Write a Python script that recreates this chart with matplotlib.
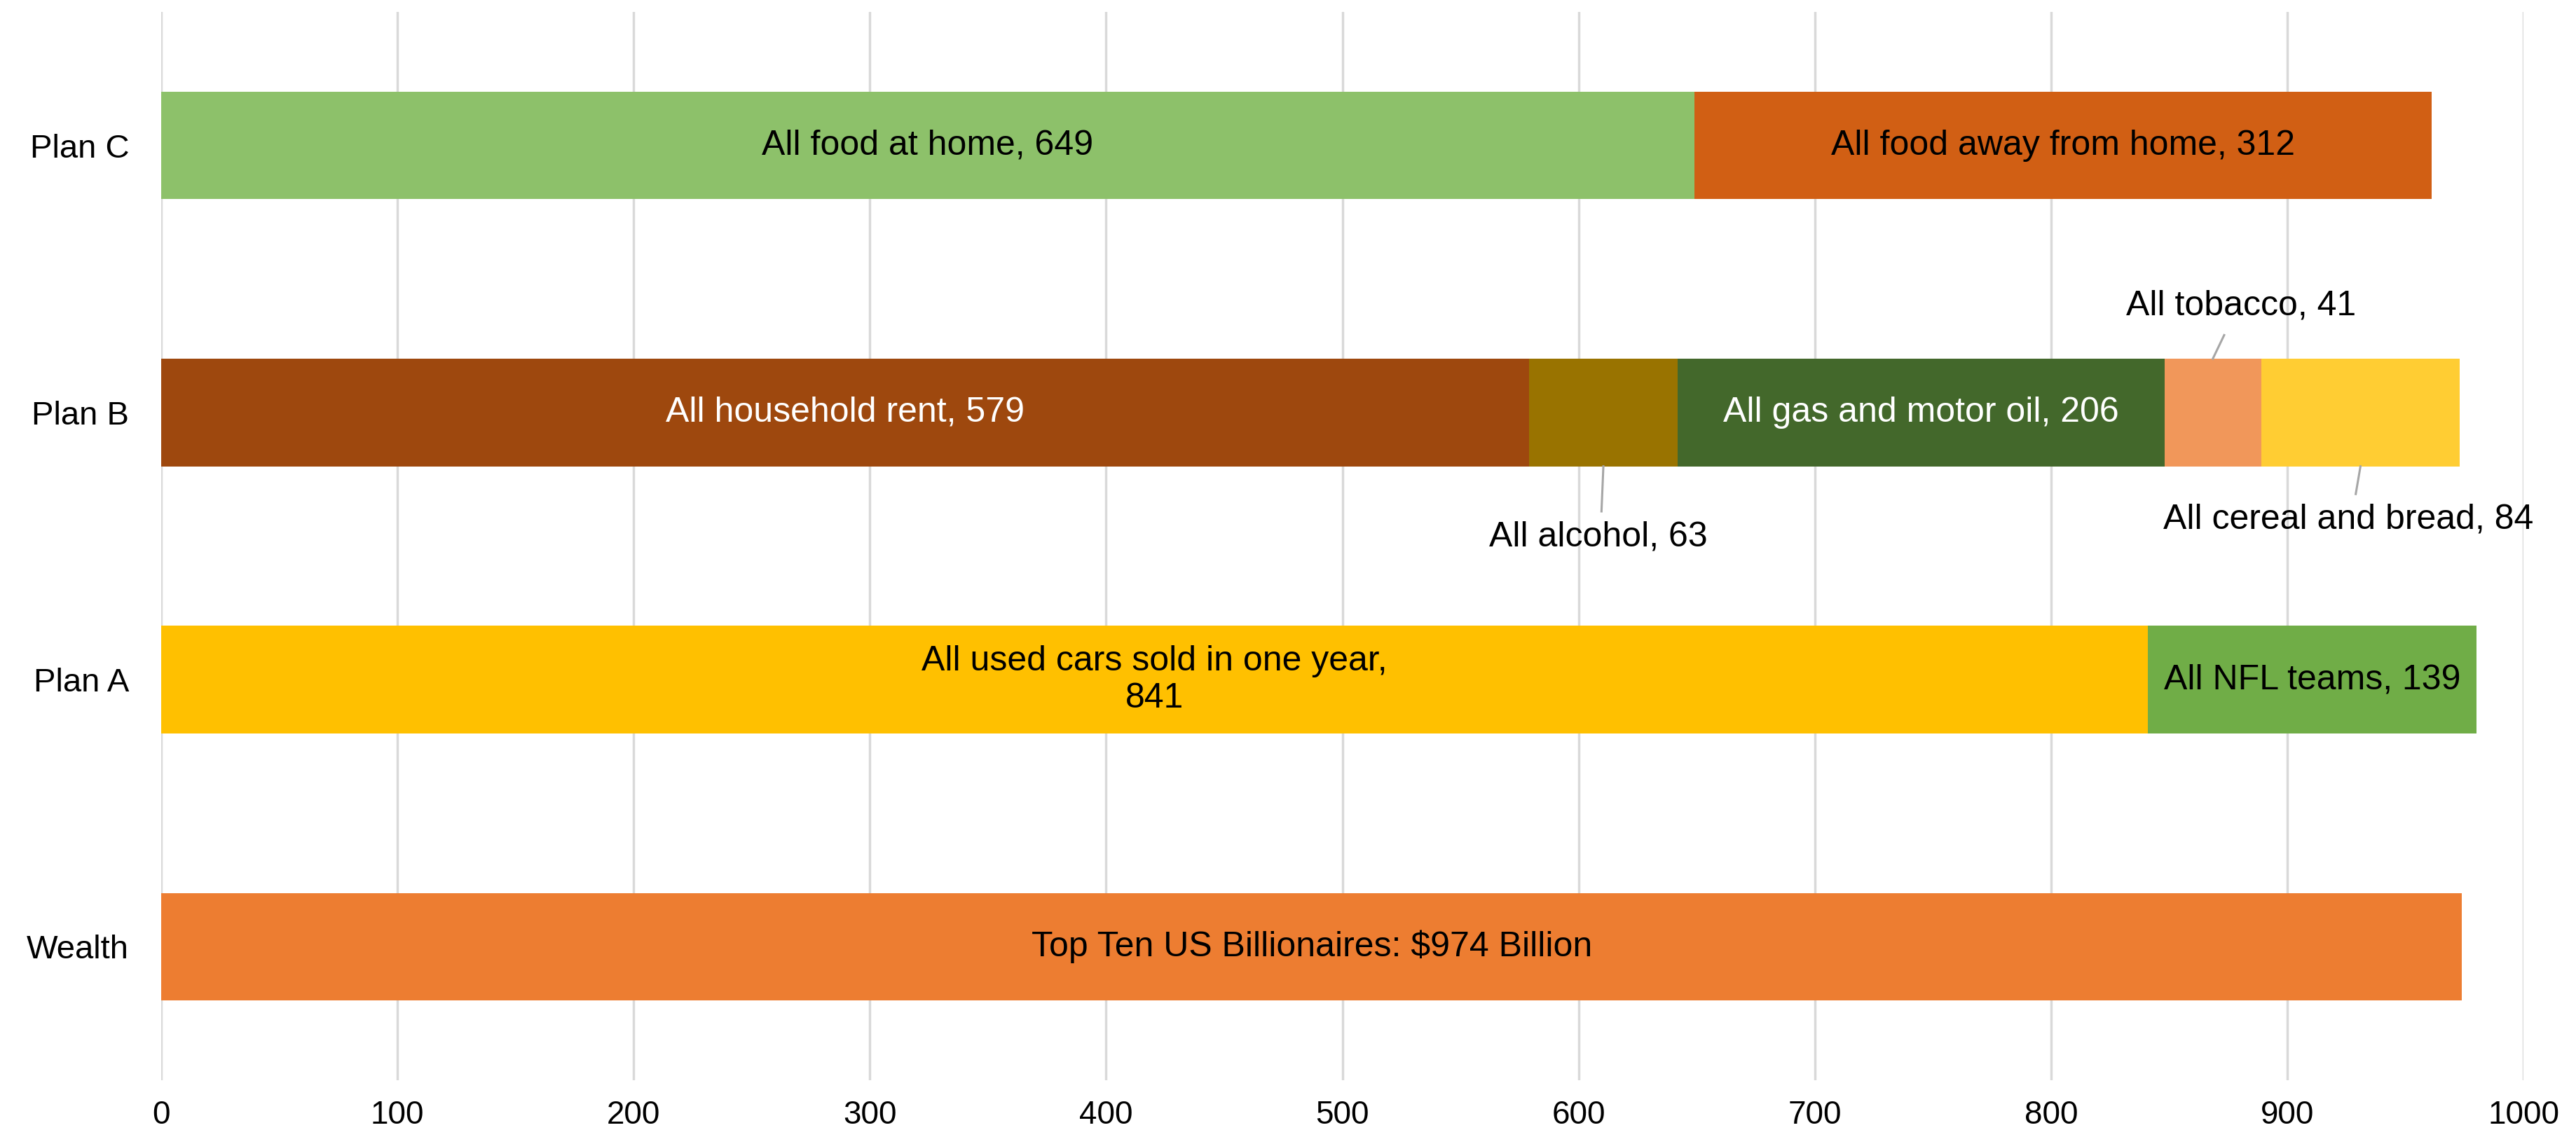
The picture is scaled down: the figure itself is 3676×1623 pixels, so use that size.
import matplotlib.pyplot as plt

plt.rcParams['font.family'] = ['Liberation Sans', 'DejaVu Sans']

# rows from bottom to top
rows = ["Wealth", "Plan A", "Plan B", "Plan C"]

wealth_vals = [974]
wealth_names = ["Top Ten US Billionaires: $974 Billion"]
wealth_colors = ["#ED7D31"]

plan_a_vals = [841, 139]
plan_a_names = ["All used cars sold in one year,\n841", "All NFL teams, 139"]
plan_a_colors = ["#FFC000", "#70AD47"]

plan_b_vals = [579, 63, 206, 41, 84]
plan_b_names = ["All household rent, 579", "All alcohol, 63", "All gas and motor oil, 206",
                "All tobacco, 41", "All cereal and bread, 84"]
plan_b_colors = ["#9E480E", "#997300", "#43682B", "#F1975A", "#FFCD33"]

plan_c_vals = [649, 312]
plan_c_names = ["All food at home, 649", "All food away from home, 312"]
plan_c_colors = ["#8DC16A", "#D15F14"]

white_text = ["All household rent, 579", "All gas and motor oil, 206"]
# small segments labelled outside the bar: (y offset of text, y offset of line end, x shift)
outside = {
    "All alcohol, 63": (-0.465, -0.37, -2),
    "All tobacco, 41": (0.40, 0.29, 12),
    "All cereal and bread, 84": (-0.40, -0.305, -5),
}

fig = plt.figure(figsize=(36.76, 16.23), dpi=100)
ax = fig.add_axes([0.0626, 0.0499, 0.9170, 0.9396])

h = 0.403
for y, (vals, names, colors) in enumerate([(wealth_vals, wealth_names, wealth_colors),
                                          (plan_a_vals, plan_a_names, plan_a_colors),
                                          (plan_b_vals, plan_b_names, plan_b_colors),
                                          (plan_c_vals, plan_c_names, plan_c_colors)]):
    left = 0
    for v, name, c in zip(vals, names, colors):
        ax.barh(y, v, left=left, height=h, color=c, zorder=2)
        mid = left + v / 2
        if name in outside:
            ty, ly, dx = outside[name]
            edge = h / 2 if ty > 0 else -h / 2
            ax.plot([mid, mid + dx * 0.4], [y + edge, y + ly], color="#A6A6A6", lw=2.2, zorder=3)
            ax.text(mid + dx, y + ty, name, ha="center", va="center", fontsize=36, color="#000000",
                    clip_on=False)
        else:
            tc = "white" if name in white_text else "#000000"
            ax.text(mid, y, name, ha="center", va="center", fontsize=36, color=tc,
                    linespacing=1.2, zorder=4)
        left += v

ax.set_xlim(0, 1000)
ax.set_ylim(-0.5, 3.5)
ax.set_xticks(range(0, 1001, 100))
ax.set_yticks(range(len(rows)))
ax.set_yticklabels(rows)
ax.tick_params(axis="y", length=0, pad=33, labelsize=34)
ax.tick_params(axis="x", length=0, pad=20, labelsize=33)
ax.grid(axis="x", color="#D9D9D9", lw=2.5, zorder=0)
for s in ax.spines.values():
    s.set_visible(False)

fig.savefig("out.png", dpi=100)
